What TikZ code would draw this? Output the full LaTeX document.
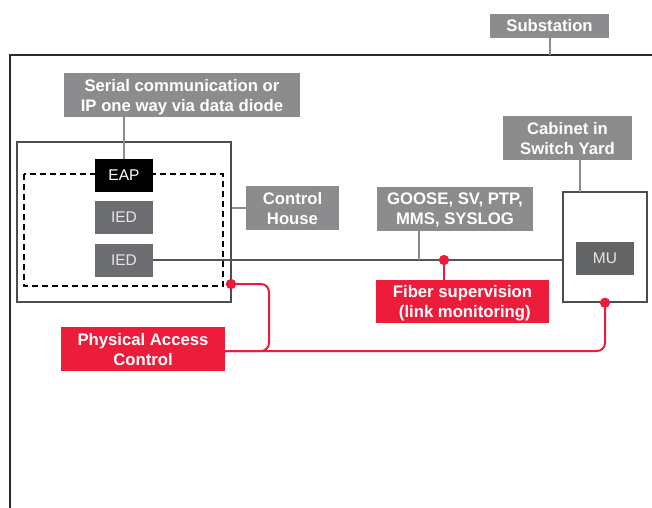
\documentclass[tikz,border=0pt]{standalone}
\usepackage{fontspec}
\setmainfont{Liberation Sans}
\definecolor{labelgray}{HTML}{8C8C8E}
\definecolor{iedgray}{HTML}{6D6E71}
\definecolor{mugray}{HTML}{636466}
\definecolor{iedtext}{HTML}{E6E6E6}
\definecolor{redc}{HTML}{EC1C3A}
\definecolor{conngray}{HTML}{8C8C8C}
\definecolor{netgray}{HTML}{555555}
\definecolor{boxgray}{HTML}{4D4D4D}
\definecolor{outerc}{HTML}{2B2B2B}
\begin{document}
\begin{tikzpicture}[x=1pt,y=-1pt,
 lbl/.style={fill=labelgray,text=white,font=\bfseries\fontsize{16.7}{20}\selectfont,align=center,inner sep=0,minimum height=44pt,text depth=-5pt},
 redlbl/.style={lbl,fill=redc},
 dev/.style={fill=iedgray,text=iedtext,font=\fontsize{15.5}{18}\selectfont,inner sep=0,minimum width=58pt,minimum height=33pt},
 frame/.style={draw=boxgray,line width=1.5pt,inner sep=0},
 conn/.style={draw=conngray,line width=2pt},
 net/.style={draw=netgray,line width=1.5pt},
 redline/.style={draw=redc,line width=2pt,rounded corners=8pt},
 dot/.style={circle,fill=redc,inner sep=0,minimum size=10pt}
]
\useasboundingbox (0,0) rectangle (652,507);
\clip (0,0) rectangle (652,507);
% outer substation border
\coordinate (subtop) at (550,55);
\draw[outerc,line width=2pt] (680,55) -- (10,55) -- (10,530);
\node[lbl,minimum width=119pt,minimum height=24pt] (sub) at (549.5,25.5) {Substation};
\draw[conn] (sub.south -| subtop) -- (subtop);

% control house
\node[frame,minimum width=214pt,minimum height=160pt] (chbox) at (124,222) {};
\draw[black,line width=1.5pt,dash pattern=on 6pt off 4pt] (24,174) rectangle (223,286);
\node[dev,fill=black,text=white] (eap) at (124,175.5) {EAP};
\node[dev] (ied1) at (124,217.5) {IED};
\node[dev] (ied2) at (124,260) {IED};
\node[lbl,minimum width=236pt] (serial) at (182,95) {Serial communication or\\IP one way via data diode};
\draw[conn] (serial.south -| eap.north) -- (eap.north);
\node[lbl,minimum width=93pt] (chlabel) at (292.5,208) {Control\\House};
\draw[conn] (chbox.east |- chlabel.west) -- (chlabel.west);

% cabinet in switch yard
\node[frame,minimum width=84pt,minimum height=110pt] (mubox) at (605,247) {};
\node[dev,fill=mugray] (mu) at (605,258.5) {MU};
\node[lbl,minimum width=129pt] (cab) at (567.5,138) {Cabinet in\\Switch Yard};
\coordinate (cabdrop) at (580,192);
\draw[conn] (cab.south -| cabdrop) -- (cabdrop);

% network line
\draw[net] (ied2.east) -- (mubox.west |- ied2.east);
\node[lbl,minimum width=156pt] (goose) at (455,209) {GOOSE, SV, PTP,\\MMS, SYSLOG};
\coordinate (gooseon) at (419,260);
\draw[conn] (goose.south -| gooseon) -- (gooseon);

% fiber supervision
\node[redlbl,minimum width=173pt,minimum height=43pt] (fiber) at (462.5,301.5) {Fiber supervision\\\ (link monitoring)};
\node[dot] (fdot) at (444,260) {};
\draw[redc,line width=2pt] (fdot) -- (fdot |- fiber.north);

% physical access control
\node[redlbl,minimum width=164pt] (pac) at (143,349) {Physical Access\\Control};
\node[dot] (chdot) at (231,284) {};
\node[dot] (mudot) at (mubox.south) {};
\draw[redline] (chdot.center) -- (269,284) -- (269,351) -- (pac.east |- 0,351);
\draw[redline] (pac.east |- 0,351) -- (mudot.center |- 0,351) -- (mudot.center);
\node[dot] at (chdot) {};
\node[dot] at (mudot) {};
\node[dot] at (fdot) {};
\end{tikzpicture}
\end{document}
